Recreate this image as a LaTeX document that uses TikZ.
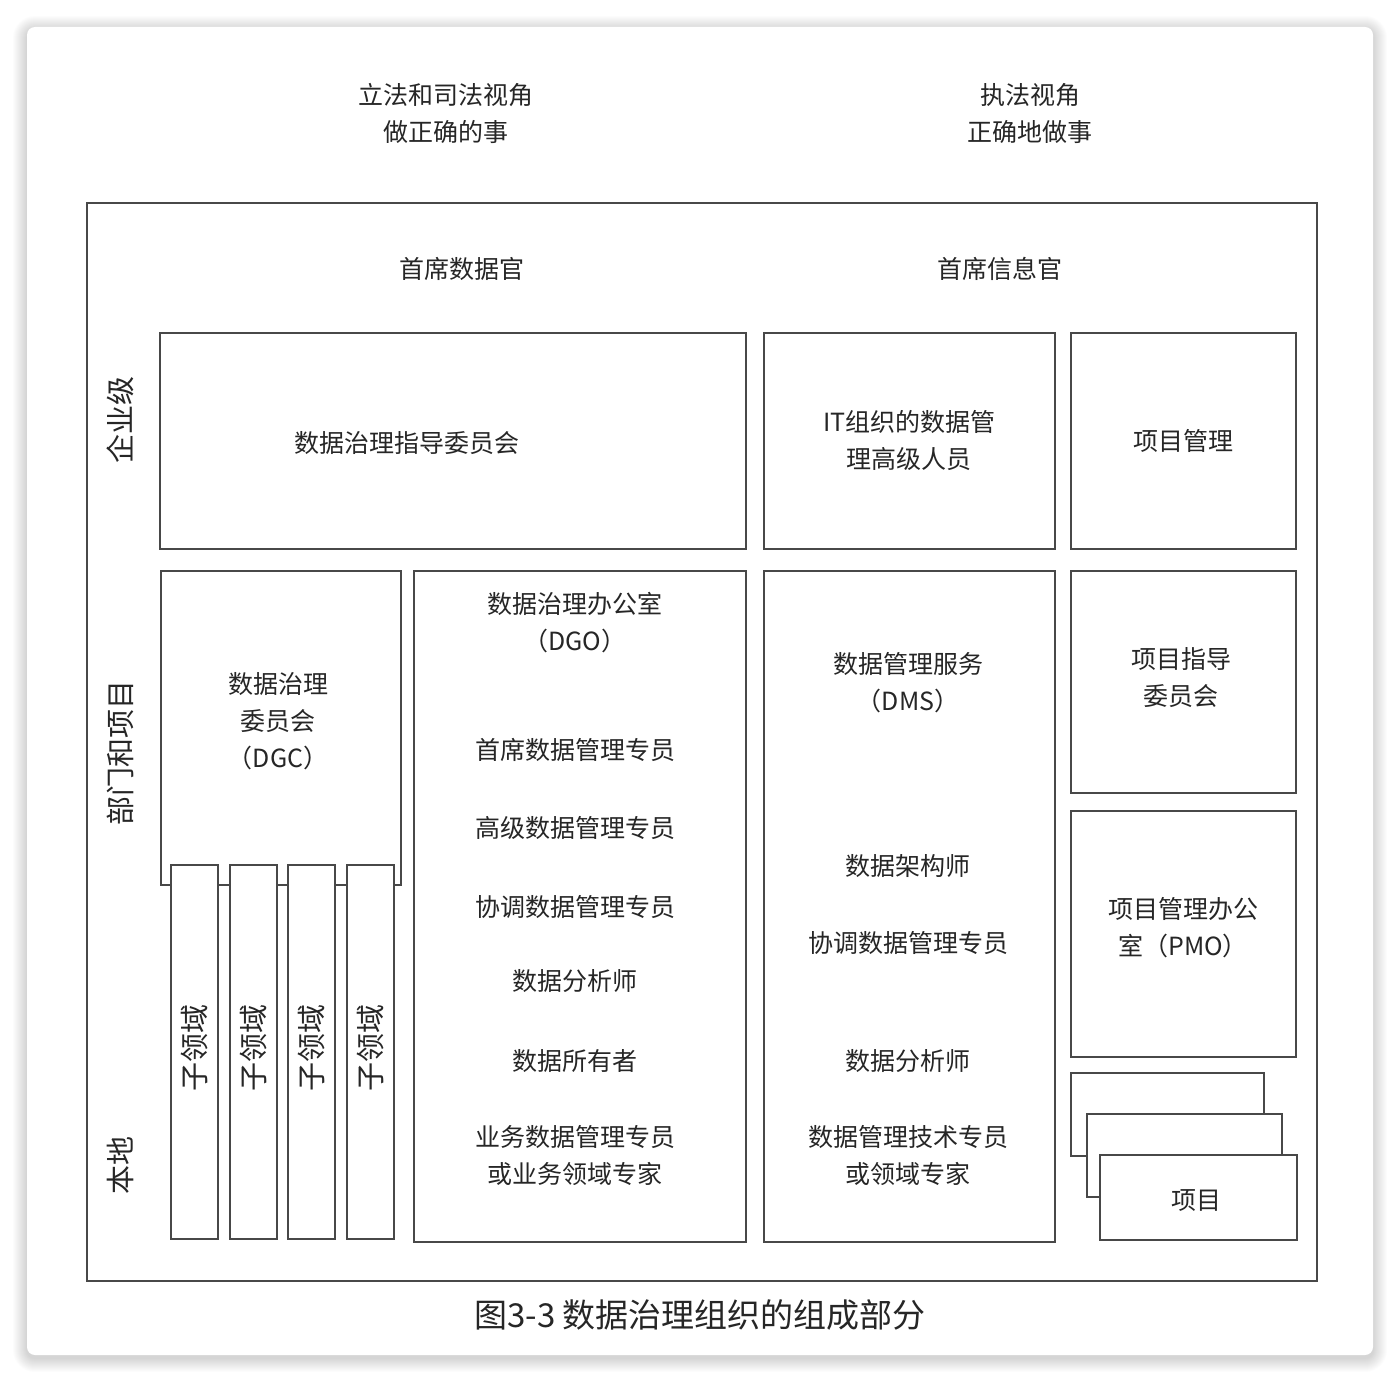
\documentclass[tikz,border=0pt]{standalone}
\usepackage{fontspec}
\setmainfont{Noto Sans CJK SC}
\usetikzlibrary{positioning}
\definecolor{linegray}{HTML}{484848}
\definecolor{textgray}{HTML}{262626}
\tikzset
{
    frame/.style   = {draw=linegray, line width=1.8pt, fill=white, anchor=north west, inner sep=0pt},
    label/.style   = {text=textgray, align=center, font=\fontsize{25}{37}\selectfont},
    sidelabel/.style = {text=textgray, rotate=90, font=\fontsize{29}{30}\selectfont},
    subbox/.style  = {frame, minimum width=47, minimum height=374}
}

\begin{document}
\begin{tikzpicture}[x=1pt, y=-1pt]
    \useasboundingbox (0,0) rectangle (1400,1381);
    % card with soft shadow
    \foreach \s in {1,...,14}
      \fill[black, opacity=0.012, rounded corners={8pt+\s pt}] (27-\s,27-\s+3) rectangle (1373+\s,1355+\s+3);
    \fill[white, rounded corners=8pt] (27,27) rectangle (1373,1355);

    % headings
    \node [label] (legal) at (446,113) {立法和司法视角\\做正确的事};
    \node [label] (exec)  at (1030,113) {执法视角\\正确地做事};

    % outer frame
    \node [frame, minimum width=1230, minimum height=1078] (outer) at (86,202) {};
    \node [label] (cdo) at (462,269) {首席数据官};
    \node [label] (cio) at (1000,269) {首席信息官};

    % level labels
    \node [sidelabel] (enterprise) at (120,420)  {企业级};
    \node [sidelabel] (division)   at (120,753)  {部门和项目};
    \node [sidelabel] (local)      at (120,1165) {本地};

    % enterprise row
    \node [frame, minimum width=586, minimum height=216] (dgsc) at (159,332) {};
    \node [label] (dgsctext) at (407,443) {数据治理指导委员会};
    \node [frame, minimum width=291, minimum height=216] (itmgr) at (763,332) {};
    \node [label] (itmgrtext) at (itmgr.center) {IT组织的数据管\\理高级人员};
    \node [frame, minimum width=225, minimum height=216] (pm) at (1070,332) {};
    \node [label] (pmtext) at (pm.center) {项目管理};

    % DGC with sub domains
    \node [frame, minimum width=240, minimum height=314] (dgc) at (160,570) {};
    \node [label] (dgctext) at (278,721) {数据治理\\委员会\\（DGC）};
    \foreach \x/\n in {170/1, 229/2, 287/3, 346/4}
    {
      \node [subbox] (sub\n) at (\x,864) {};
      \node [sidelabel] at (sub\n.center |- 0,1048) {子领域};
    }

    % DGO
    \node [frame, minimum width=332, minimum height=671] (dgo) at (413,570) {};
    \node [label] (dgotitle) at (575,623)  {数据治理办公室\\（DGO）};
    \node [label] (dgo1)     at (575,750)  {首席数据管理专员};
    \node [label] (dgo2)     at (575,828)  {高级数据管理专员};
    \node [label] (dgo3)     at (575,907)  {协调数据管理专员};
    \node [label] (dgo4)     at (575,981)  {数据分析师};
    \node [label] (dgo5)     at (575,1061) {数据所有者};
    \node [label] (dgo6)     at (575,1155) {业务数据管理专员\\或业务领域专家};

    % DMS
    \node [frame, minimum width=291, minimum height=671] (dms) at (763,570) {};
    \node [label] (dmstitle) at (908,683)  {数据管理服务\\（DMS）};
    \node [label] (dms1)     at (908,866)  {数据架构师};
    \node [label] (dms2)     at (908,943)  {协调数据管理专员};
    \node [label] (dms3)     at (908,1061) {数据分析师};
    \node [label] (dms4)     at (908,1155) {数据管理技术专员\\或领域专家};

    % project side
    \node [frame, minimum width=225, minimum height=222] (psc) at (1070,570) {};
    \node [label] (psctext) at (1181,678) {项目指导\\委员会};
    \node [frame, minimum width=225, minimum height=246] (pmo) at (1070,810) {};
    \node [label] (pmotext) at (1183,928) {项目管理办公\\室（PMO）};
    \node [frame, minimum width=193, minimum height=83] (proj1) at (1070,1072) {};
    \node [frame, minimum width=195, minimum height=83] (proj2) at (1086,1113) {};
    \node [frame, minimum width=197, minimum height=85] (proj3) at (1099,1154) {};
    \node [label] (projtext) at (1196,1201) {项目};

    % caption
    \node [label, font=\fontsize{33}{38}\selectfont] (caption) at (700,1315) {图3-3 数据治理组织的组成部分};
\end{tikzpicture}
\end{document}
